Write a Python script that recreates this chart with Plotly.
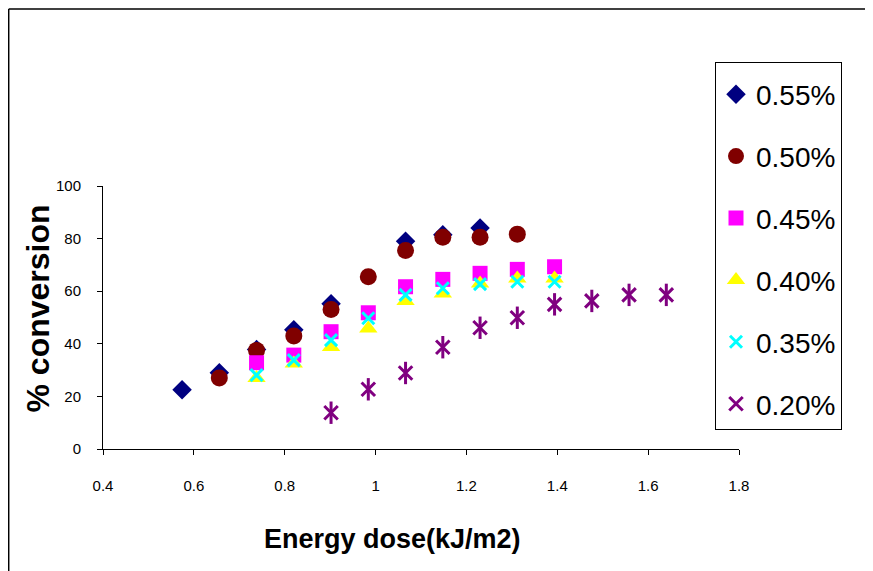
import plotly.graph_objects as go

# Data
dose_055 = [0.574, 0.656, 0.738, 0.82, 0.902, 1.066, 1.148, 1.23]
conv_055 = [22.5, 29.0, 37.8, 45.3, 55.2, 79.0, 81.5, 84.0]

dose_050 = [0.656, 0.738, 0.82, 0.902, 0.984, 1.066, 1.148, 1.23, 1.312]
conv_050 = [27.0, 37.5, 43.0, 53.0, 65.5, 75.5, 80.5, 80.5, 81.7]

dose_045 = [0.738, 0.82, 0.902, 0.984, 1.066, 1.148, 1.23, 1.312, 1.394]
conv_045 = [32.8, 35.7, 44.6, 51.8, 61.7, 64.5, 66.8, 68.3, 69.3]

dose_040 = [0.738, 0.82, 0.902, 0.984, 1.066, 1.148, 1.23, 1.312, 1.394]
conv_040 = [27.0, 32.5, 38.8, 45.8, 56.3, 59.1, 62.9, 64.8, 64.8]

dose_035 = [0.738, 0.82, 0.902, 0.984, 1.066, 1.148, 1.23, 1.312, 1.394]
conv_035 = [28.1, 33.8, 41.4, 49.7, 58.6, 61.1, 62.7, 63.6, 63.6]

dose_020 = [0.902, 0.984, 1.066, 1.148, 1.23, 1.312, 1.394, 1.476, 1.558, 1.64]
conv_020 = [13.8, 22.7, 28.9, 38.7, 46.1, 49.9, 55.0, 56.3, 58.6, 58.6]

names = ["0.55%", "0.50%", "0.45%", "0.40%", "0.35%", "0.20%"]
x_ticks = [0.4, 0.6, 0.8, 1, 1.2, 1.4, 1.6, 1.8]
y_ticks = [0, 20, 40, 60, 80, 100]
x_title = "Energy dose(kJ/m2)"
y_title = "% conversion"

FONT = "Liberation Sans, Arial, sans-serif"

fig = go.Figure()
fig.add_trace(go.Scatter(x=dose_055, y=conv_055, mode="markers", name=names[0], legendgroup="a",
                         marker=dict(symbol="diamond", size=15, color="#000080", line=dict(width=0))))
fig.add_trace(go.Scatter(x=dose_050, y=conv_050, mode="markers", name=names[1], legendgroup="b",
                         marker=dict(symbol="circle", size=17, color="#800000", line=dict(width=0))))
fig.add_trace(go.Scatter(x=dose_045, y=conv_045, mode="markers", name=names[2], legendgroup="c",
                         marker=dict(symbol="square", size=15, color="#FF00FF", line=dict(width=0))))
fig.add_trace(go.Scatter(x=dose_040, y=conv_040, mode="markers", name=names[3], legendgroup="d",
                         marker=dict(symbol="triangle-up", size=16, color="#FFFF00", line=dict(width=0))))
fig.add_trace(go.Scatter(x=dose_035, y=conv_035, mode="markers", name=names[4], legendgroup="e",
                         marker=dict(symbol="x-thin-open", size=12, color="#00FFFF",
                                     line=dict(width=3, color="#00FFFF"))))
fig.add_trace(go.Scatter(x=dose_020, y=conv_020, mode="markers", name=names[5], legendgroup="f",
                         marker=dict(symbol="x-thin-open", size=13.5, color="#800080",
                                     line=dict(width=3, color="#800080"))))
fig.add_trace(go.Scatter(x=dose_020, y=conv_020, mode="markers", name=names[5], legendgroup="f",
                         showlegend=False,
                         marker=dict(symbol="line-ns-open", size=16, color="#800080",
                                     line=dict(width=3, color="#800080"))))

# page offset of the figure (default body margin)
OFF = 8
W, H = 873 - OFF, 571 - OFF
L, T = 103 - OFF, 186 - OFF
pw, ph = 636, 263
R = W - L - pw
B = H - T - ph

def px(x):  # page pixel -> paper x
    return (x - OFF - L) / pw

def py(y):  # page pixel -> paper y
    return (T + ph - (y - OFF)) / ph

fig.update_layout(
    width=W, height=H,
    margin=dict(l=L, r=R, t=T, b=B, pad=0, autoexpand=False),
    paper_bgcolor="white", plot_bgcolor="white",
    font=dict(family=FONT, color="black"),
    showlegend=True,
    legend=dict(
        x=px(715), y=py(62), xanchor="left", yanchor="top",
        bordercolor="black", borderwidth=1, bgcolor="white",
        font=dict(family=FONT, size=28, color="black"),
        title=dict(text=" ", font=dict(size=5)),
        tracegroupgap=22.5, itemsizing="trace", maxheight=420,
    ),
    xaxis=dict(
        range=[0.4, 1.8], tickvals=x_ticks, ticktext=[str(v) for v in x_ticks],
        showgrid=False, zeroline=False, showline=True, linecolor="black", linewidth=1,
        ticks="outside", ticklen=5, tickcolor="black", ticklabelstandoff=18,
        tickfont=dict(family=FONT, size=15, color="black"),
    ),
    yaxis=dict(
        range=[0, 100], tickvals=y_ticks,
        showgrid=False, zeroline=False, showline=True, linecolor="black", linewidth=1,
        ticks="outside", ticklen=5, tickcolor="black", ticklabelstandoff=13,
        tickfont=dict(family=FONT, size=15, color="black"),
    ),
    annotations=[
        dict(text="<b>" + x_title + "</b>", xref="paper", yref="paper",
             x=px(392), y=py(539), xanchor="center", yanchor="middle", showarrow=False,
             font=dict(family=FONT, size=27, color="black")),
        dict(text="<b>" + y_title + "</b>", xref="paper", yref="paper", textangle=-90,
             x=px(37), y=py(308.5), xanchor="center", yanchor="middle", showarrow=False,
             font=dict(family=FONT, size=32, color="black")),
    ],
    shapes=[
        dict(type="line", xref="paper", yref="paper", x0=px(8.7), x1=px(900), y0=py(9), y1=py(9),
             line=dict(color="black", width=1.5)),
        dict(type="line", xref="paper", yref="paper", x0=px(8.7), x1=px(8.7), y0=py(9), y1=py(600),
             line=dict(color="black", width=1.5)),
    ],
)

fig.write_html("out.html")
